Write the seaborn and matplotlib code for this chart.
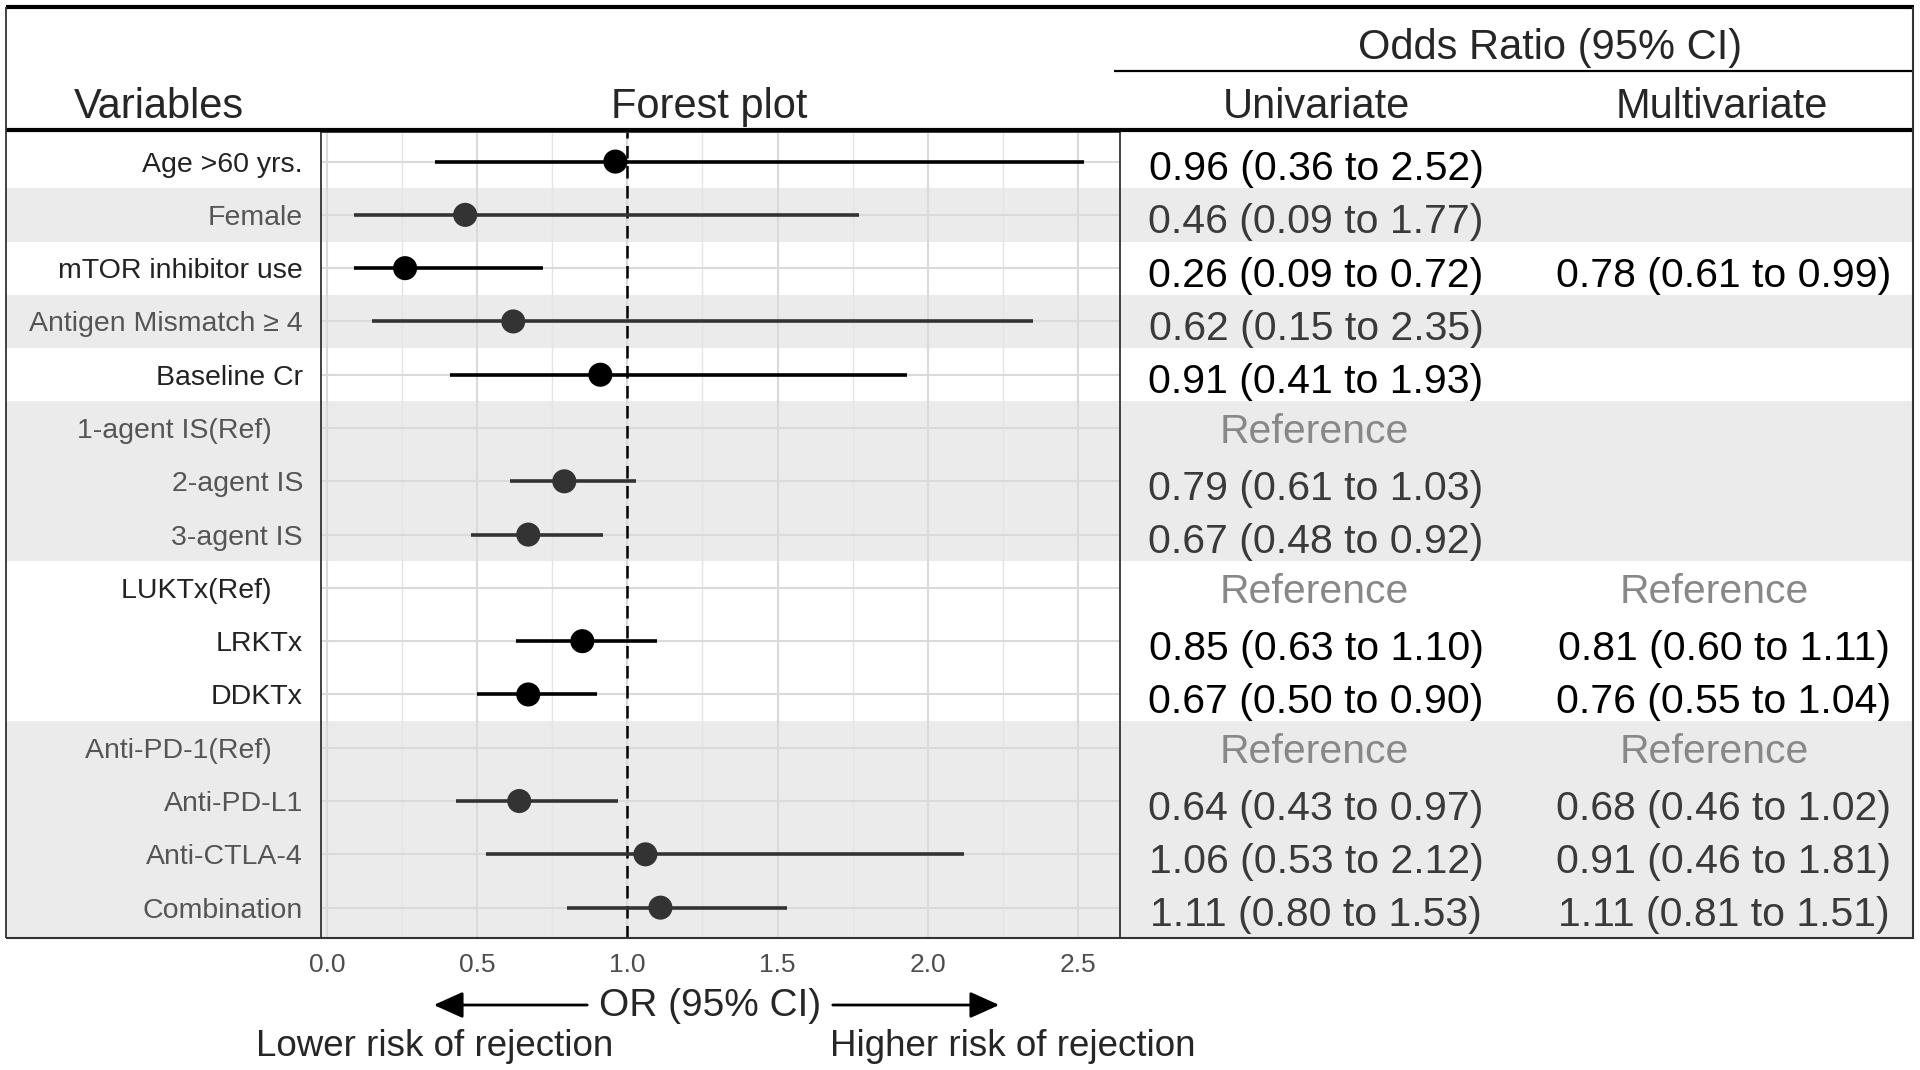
import numpy as np
import pandas as pd
import matplotlib
matplotlib.use("Agg")
import matplotlib.pyplot as plt
import seaborn as sns
from matplotlib.lines import Line2D
from matplotlib.patches import FancyArrowPatch

# ---------------- data ----------------
variables = ["Age >60 yrs.", "Female", "mTOR inhibitor use", "Antigen Mismatch \u2265 4",
             "Baseline Cr", "1-agent IS(Ref)    ", "2-agent IS", "3-agent IS",
             "LUKTx(Ref)    ", "LRKTx", "DDKTx", "Anti-PD-1(Ref)    ", "Anti-PD-L1",
             "Anti-CTLA-4", "Combination"]
uni_or = [0.96, 0.46, 0.26, 0.62, 0.91, np.nan, 0.79, 0.67, np.nan, 0.85, 0.67, np.nan, 0.64, 1.06, 1.11]
uni_lo = [0.36, 0.09, 0.09, 0.15, 0.41, np.nan, 0.61, 0.48, np.nan, 0.63, 0.50, np.nan, 0.43, 0.53, 0.80]
uni_hi = [2.52, 1.77, 0.72, 2.35, 1.93, np.nan, 1.03, 0.92, np.nan, 1.10, 0.90, np.nan, 0.97, 2.12, 1.53]
uni_ref = [False, False, False, False, False, True, False, False, True, False, False, True, False, False, False]
multi_or = [np.nan, np.nan, 0.78, np.nan, np.nan, np.nan, np.nan, np.nan, np.nan, 0.81, 0.76, np.nan, 0.68, 0.91, 1.11]
multi_lo = [np.nan, np.nan, 0.61, np.nan, np.nan, np.nan, np.nan, np.nan, np.nan, 0.60, 0.55, np.nan, 0.46, 0.46, 0.81]
multi_hi = [np.nan, np.nan, 0.99, np.nan, np.nan, np.nan, np.nan, np.nan, np.nan, 1.11, 1.04, np.nan, 1.02, 1.81, 1.51]
multi_ref = [False, False, False, False, False, False, False, False, True, False, False, True, False, False, False]
shaded = [False, True, False, True, False, True, True, True, False, False, False, True, True, True, True]
x_ticks = [0.0, 0.5, 1.0, 1.5, 2.0, 2.5]
x_tick_labels = ["0.0", "0.5", "1.0", "1.5", "2.0", "2.5"]
x_minor = [0.25, 0.75, 1.25, 1.75, 2.25]

# ---------------- style ----------------
sns.set_style("white")
plt.rcParams["font.family"] = ["Liberation Sans", "DejaVu Sans"]

W, H = 1920, 1070
fig = plt.figure(figsize=(W / 100, H / 100), dpi=100)
fig.patch.set_facecolor("white")


def rect(l, t, r, b):
    return [l / W, 1 - b / H, (r - l) / W, (b - t) / H]


def fx(x):
    return x / W


def fy(y):
    return 1 - y / H


n = len(variables)
rows = np.arange(1, n + 1)
ylim = (15.57, 0.445)
BAND = "#EBEBEB"

ax_lab = fig.add_axes(rect(6, 132, 321, 938))
ax_tab = fig.add_axes(rect(1120, 132, 1913, 938))
ax = fig.add_axes(rect(321, 132, 1120, 938))

for a in (ax_lab, ax_tab, ax):
    a.set_ylim(ylim)
for a in (ax_lab, ax_tab):
    a.set_xlim(0, 1)
    a.axis("off")

for i, s in enumerate(shaded):
    if s:
        lo = rows[i] - 0.5
        hi = rows[i] + 0.5 if i < n - 1 else ylim[0] + 0.5
        for a in (ax_lab, ax_tab, ax):
            a.axhspan(lo, hi, color=BAND, lw=0, zorder=0)

# ---------------- forest panel ----------------
df = pd.DataFrame({"row": rows, "or": uni_or, "lo": uni_lo, "hi": uni_hi,
                   "grp": ["gray" if s else "white" for s in shaded]})
pal = {"white": "#000000", "gray": "#333333"}
dfp = df.dropna()
ax.set_axisbelow(True)
ax.set_xlim(-0.02, 2.64)
ax.set_ylim(ylim)
ax.set_xticks(x_ticks)
ax.set_xticklabels(x_tick_labels)
ax.set_xticks(x_minor, minor=True)
ax.set_yticks(rows)
ax.set_yticklabels(variables)
ax.grid(which="major", color="#DADADA", lw=1.5)
ax.grid(which="minor", axis="x", color="#E4E4E4", lw=1.0)
ax.tick_params(which="minor", length=0)
ax.tick_params(axis="x", which="major", length=6, width=1.3, color="#333333",
               labelsize=19, labelcolor="#4D4D4D", pad=5)
ax.tick_params(axis="y", which="major", length=8, width=1.6, color="#333333",
               labelsize=20.5, pad=5)
for lab, s in zip(ax.get_yticklabels(), shaded):
    lab.set_color("#555555" if s else "#222222")
for sp in ax.spines.values():
    sp.set_color("#333333")
    sp.set_linewidth(1.3)

ax.axvline(1.0, color="black", lw=1.8, ls=(0, (5, 3)), zorder=2.5)
ax.hlines(dfp["row"], dfp["lo"], dfp["hi"], colors=[pal[g] for g in dfp["grp"]],
          lw=2.6, zorder=3)
sns.scatterplot(data=dfp, x="or", y="row", hue="grp", palette=pal, s=300,
                edgecolor="none", legend=False, ax=ax, zorder=4)
ax.set_xlabel("")
ax.set_ylabel("")
ax.set_ylim(ylim)

# ---------------- table ----------------
col_uni = (1316 - 1120) / (1913 - 1120)
col_multi = (1724 - 1120) / (1913 - 1120)
col_multi_ref = (1714 - 1120) / (1913 - 1120)
col_uni_ref = (1314 - 1120) / (1913 - 1120)


def fmt(o, l, h):
    return f"{o:.2f} ({l:.2f} to {h:.2f})"


for i in range(n):
    tc = "#3A3A3A" if shaded[i] else "#000000"
    if uni_ref[i]:
        ax_tab.text(col_uni_ref, rows[i] + 0.08, "Reference", ha="center", va="center",
                    fontsize=29.5, color="#888888")
    elif not np.isnan(uni_or[i]):
        ax_tab.text(col_uni, rows[i] + 0.14, fmt(uni_or[i], uni_lo[i], uni_hi[i]),
                    ha="center", va="center", fontsize=29.5, color=tc)
    if multi_ref[i]:
        ax_tab.text(col_multi_ref, rows[i] + 0.08, "Reference", ha="center", va="center",
                    fontsize=29.5, color="#888888")
    elif not np.isnan(multi_or[i]):
        ax_tab.text(col_multi, rows[i] + 0.14, fmt(multi_or[i], multi_lo[i], multi_hi[i]),
                    ha="center", va="center", fontsize=29.5, color=tc)

# ---------------- headers ----------------
HFS = 30
fig.text(fx(159), fy(107), "Variables", ha="center", va="center", fontsize=HFS)
fig.text(fx(709), fy(107), "Forest plot", ha="center", va="center", fontsize=HFS)
fig.text(fx(1550), fy(48), "Odds Ratio (95% CI)", ha="center", va="center", fontsize=HFS)
fig.text(fx(1316), fy(107), "Univariate", ha="center", va="center", fontsize=HFS)
fig.text(fx(1722), fy(107), "Multivariate", ha="center", va="center", fontsize=HFS)


def hline(x0, x1, y, lw, c="black"):
    fig.add_artist(Line2D([fx(x0), fx(x1)], [fy(y), fy(y)], transform=fig.transFigure,
                          color=c, lw=lw, solid_capstyle="butt"))


def vline(x, y0, y1, lw, c="black"):
    fig.add_artist(Line2D([fx(x), fx(x)], [fy(y0), fy(y1)], transform=fig.transFigure,
                          color=c, lw=lw, solid_capstyle="butt"))


hline(6, 1914, 7, 3.0)
hline(6, 1914, 130, 3.0)
hline(1114, 1914, 71, 1.6)
hline(6, 1914, 938, 1.5, "#333333")
vline(6, 7, 938, 1.3, "#333333")
vline(1913, 7, 938, 1.5, "#333333")

# ---------------- bottom annotation ----------------
fig.text(fx(710), fy(1006), "OR (95% CI)", ha="center", va="center", fontsize=28)
fig.text(fx(435), fy(1047), "Lower risk of rejection", ha="center", va="center", fontsize=26.5)
fig.text(fx(1013), fy(1047), "Higher risk of rejection", ha="center", va="center", fontsize=26.5)
for x0, x1 in [(590, 431), (830, 1002)]:
    fig.add_artist(FancyArrowPatch((fx(x0), fy(1005)), (fx(x1), fy(1005)),
                                   transform=fig.transFigure,
                                   arrowstyle="-|>,head_length=1.0,head_width=0.45",
                                   mutation_scale=18, color="black", lw=2.0))

fig.savefig("out.png", dpi=100, facecolor="white")
